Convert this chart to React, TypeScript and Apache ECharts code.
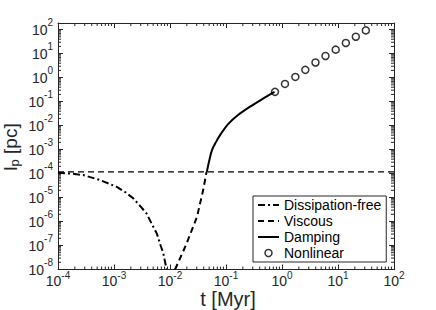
import React, { useEffect, useRef } from "react";
import * as echarts from "echarts";

// ---- data ----
const dissipX = [1e-4, 1.8e-4, 2.8e-4, 5.6e-4, 1.12e-3, 1.6e-3, 2.2e-3, 3.0e-3, 3.8e-3, 4.8e-3, 5.8e-3, 6.8e-3, 7.6e-3, 8.7e-3];
const dissipY = [1.08e-4, 9.8e-5, 8.7e-5, 5.4e-5, 2.8e-5, 1.66e-5, 9.3e-6, 4.2e-6, 2.2e-6, 7.4e-7, 3.2e-7, 1.0e-7, 4.7e-8, 1.0e-8];

const viscRiseX = [1.23e-2, 1.93e-2, 3.03e-2, 3.9e-2, 4.5e-2];
const viscRiseY = [1.0e-8, 1.05e-7, 1.55e-6, 2.0e-5, 1.18e-4];

const viscFlatX = [1e-4, 1e2];
const viscFlatY = [1.18e-4, 1.18e-4];

const dampX = [4.55e-2, 5.04e-2, 5.62e-2, 6.62e-2, 7.82e-2, 0.109, 0.164, 0.279, 0.458, 0.735];
const dampY = [1.18e-4, 3.6e-4, 9.5e-4, 2.05e-3, 4.0e-3, 1.15e-2, 2.75e-2, 6.5e-2, 0.133, 0.257];

const nonlinX = [0.75, 1.13, 1.73, 2.61, 3.96, 5.98, 9.1, 13.8, 20.8, 31.4];
const nonlinY = [0.256, 0.547, 1.07, 2.11, 4.3, 8.0, 14.7, 27.9, 51, 93.5];

const legendNames = ["Dissipation-free", "Viscous", "Damping", "Nonlinear"];

const xDecades = [-4, -3, -2, -1, 0, 1];
const yDecades = [-8, -7, -6, -5, -4, -3, -2, -1, 0, 1, 2];
const minorMultipliers = [2, 3, 4, 5, 6, 7, 8, 9];

const X_MIN = 1e-4;
const X_MAX = 1e2;
const Y_MIN = 1e-8;
const Y_MAX = 190;

const X_TITLE = "t [Myr]";
const Y_TITLE_MAIN = "l";
const Y_TITLE_SUB = "p";
const Y_TITLE_UNIT = " [pc]";

const FONT = "'Liberation Sans', Arial, Helvetica, sans-serif";
const AX = "#262626";

const pairs = (xs: number[], ys: number[]) => xs.map((x, i) => [x, ys[i]]);

const powLabel = (v: number) => {
  const l = Math.log10(v);
  const e = Math.round(l);
  if (Math.abs(l - e) > 1e-6) return "";
  return `{b|10}{s|${e}}`;
};

const yLabelRich = {
  b: { fontSize: 14, fontFamily: FONT, color: AX, lineHeight: 24 },
  s: { fontSize: 10, fontFamily: FONT, color: AX, lineHeight: 11, verticalAlign: "top" },
};
const xLabelRich = {
  b: { fontSize: 14, fontFamily: FONT, color: AX, lineHeight: 21 },
  s: { fontSize: 10, fontFamily: FONT, color: AX, lineHeight: 10, verticalAlign: "top" },
};

const hiddenSymbol = { color: "rgba(0,0,0,0)", borderWidth: 0, opacity: 0 };

export default function App() {
  const ref = useRef<HTMLDivElement>(null);

  useEffect(() => {
    if (!ref.current) return;
    const chart = echarts.init(ref.current, undefined, { renderer: "svg" });

    const minorData: number[][] = [];
    xDecades.forEach((k) =>
      minorMultipliers.forEach((m) => {
        const v = m * Math.pow(10, k);
        if (v < X_MAX) minorData.push([v, 1e-3, 0]);
      })
    );
    yDecades.forEach((k) =>
      minorMultipliers.forEach((m) => {
        const v = m * Math.pow(10, k);
        if (v < Y_MAX) minorData.push([1e-2, v, 1]);
      })
    );

    const baseAxis = {
      type: "log",
      logBase: 10,
      axisLine: { show: true, onZero: false, lineStyle: { color: AX, width: 1 } },
      axisTick: { show: true, inside: true, length: 5, lineStyle: { color: AX, width: 1 } },
      splitLine: { show: false },
      minorTick: { show: false },
      minorSplitLine: { show: false },
    };

    const yAxisBase = {
      ...baseAxis,
      min: Y_MIN,
      max: Y_MAX,
      interval: 1,
      splitNumber: 10,
    };

    const option: any = {
      animation: false,
      backgroundColor: "#ffffff",
      grid: { left: 58, right: 42, top: 23, bottom: 40.5, containLabel: false },
      xAxis: [
        {
          ...baseAxis,
          min: X_MIN,
          max: X_MAX,
          splitNumber: 6,
          position: "bottom",
          axisLabel: { formatter: powLabel, margin: 1, rich: xLabelRich, hideOverlap: false },
        },
        {
          ...baseAxis,
          min: X_MIN,
          max: X_MAX,
          splitNumber: 6,
          position: "top",
          axisLabel: { show: false },
        },
      ],
      yAxis: [
        {
          ...yAxisBase,
          position: "left",
          axisLabel: { formatter: powLabel, margin: 5, rich: yLabelRich, hideOverlap: false, interval: 0 },
        },
        {
          ...yAxisBase,
          position: "right",
          axisLabel: { show: false },
        },
      ],
      graphic: [
        {
          type: "text",
          x: 228,
          y: 299,
          silent: true,
          style: {
            text: X_TITLE,
            fontSize: 20,
            fontFamily: FONT,
            fill: AX,
            align: "center",
            verticalAlign: "middle",
          },
        },
        {
          type: "text",
          x: 10,
          y: 147,
          rotation: Math.PI / 2,
          silent: true,
          style: {
            text: `{a|${Y_TITLE_MAIN}}{sub|${Y_TITLE_SUB}}{a|${Y_TITLE_UNIT}}`,
            fontSize: 19,
            fontFamily: FONT,
            fill: AX,
            align: "center",
            verticalAlign: "middle",
            rich: {
              a: { fontSize: 19, fontFamily: FONT, fill: AX, lineHeight: 22 },
              sub: { fontSize: 13, fontFamily: FONT, fill: AX, lineHeight: 12, verticalAlign: "bottom" },
            },
          },
        },
      ],
      legend: {
        show: true,
        data: [
          { name: legendNames[0], itemStyle: hiddenSymbol },
          { name: legendNames[1], itemStyle: hiddenSymbol },
          { name: legendNames[2], itemStyle: hiddenSymbol },
          { name: legendNames[3], itemStyle: { borderWidth: 1.5, borderColor: "#000", color: "rgba(0,0,0,0)" } },
        ],
        orient: "vertical",
        left: 253,
        top: 196,
        padding: [2, 5, 2, 4],
        itemGap: 2,
        itemWidth: 21,
        itemHeight: 7,
        backgroundColor: "#ffffff",
        borderColor: AX,
        borderWidth: 1,
        borderRadius: 0,
        selectedMode: false,
        textStyle: { fontSize: 14, fontFamily: FONT, color: "#000", lineHeight: 14 },
      },
      series: [
        {
          name: legendNames[0],
          type: "line",
          data: pairs(dissipX, dissipY),
          showSymbol: false,
          symbol: "none",
          lineStyle: { color: "#000", width: 2, type: [7, 3, 2, 3] },
          itemStyle: { color: "#000" },
          z: 3,
        },
        {
          name: legendNames[1],
          type: "line",
          data: pairs(viscRiseX, viscRiseY),
          showSymbol: false,
          symbol: "none",
          lineStyle: { color: "#000", width: 2, type: [6, 4] },
          itemStyle: { color: "#000" },
          z: 3,
        },
        {
          name: "Viscous (asymptote)",
          type: "line",
          data: pairs(viscFlatX, viscFlatY),
          showSymbol: false,
          symbol: "none",
          lineStyle: { color: "#000", width: 1.2, type: [6, 4] },
          itemStyle: { color: "#000" },
          z: 3,
        },
        {
          name: legendNames[2],
          type: "line",
          data: pairs(dampX, dampY),
          showSymbol: false,
          symbol: "none",
          smooth: 0.3,
          lineStyle: { color: "#000", width: 2, type: "solid" },
          itemStyle: { color: "#000" },
          z: 3,
        },
        {
          name: legendNames[3],
          type: "scatter",
          data: pairs(nonlinX, nonlinY),
          symbol: "circle",
          symbolSize: 7,
          itemStyle: { color: "rgba(0,0,0,0)", borderColor: "#000", borderWidth: 1.5 },
          z: 4,
        },
        {
          name: "minor ticks",
          type: "custom",
          silent: true,
          data: minorData,
          encode: { x: 0, y: 1 },
          renderItem: (params: any, api: any) => {
            const cs = params.coordSys;
            const kind = api.value(2);
            const p = api.coord([api.value(0), api.value(1)]);
            const L = 3;
            const style = { stroke: AX, lineWidth: 1 };
            if (kind === 0) {
              const x = p[0];
              const yb = cs.y + cs.height;
              return {
                type: "group",
                children: [
                  { type: "line", shape: { x1: x, y1: yb, x2: x, y2: yb - L }, style },
                  { type: "line", shape: { x1: x, y1: cs.y, x2: x, y2: cs.y + L }, style },
                ],
              };
            }
            const y = p[1];
            const xr = cs.x + cs.width;
            return {
              type: "group",
              children: [
                { type: "line", shape: { x1: cs.x, y1: y, x2: cs.x + L, y2: y }, style },
                { type: "line", shape: { x1: xr, y1: y, x2: xr - L, y2: y }, style },
              ],
            };
          },
          z: 2,
        },
      ],
    };

    chart.setOption(option);
    return () => chart.dispose();
  }, []);

  return (
    <div
      ref={ref}
      style={{ position: "absolute", left: 0, top: 0, width: 436, height: 310 }}
    />
  );
}
